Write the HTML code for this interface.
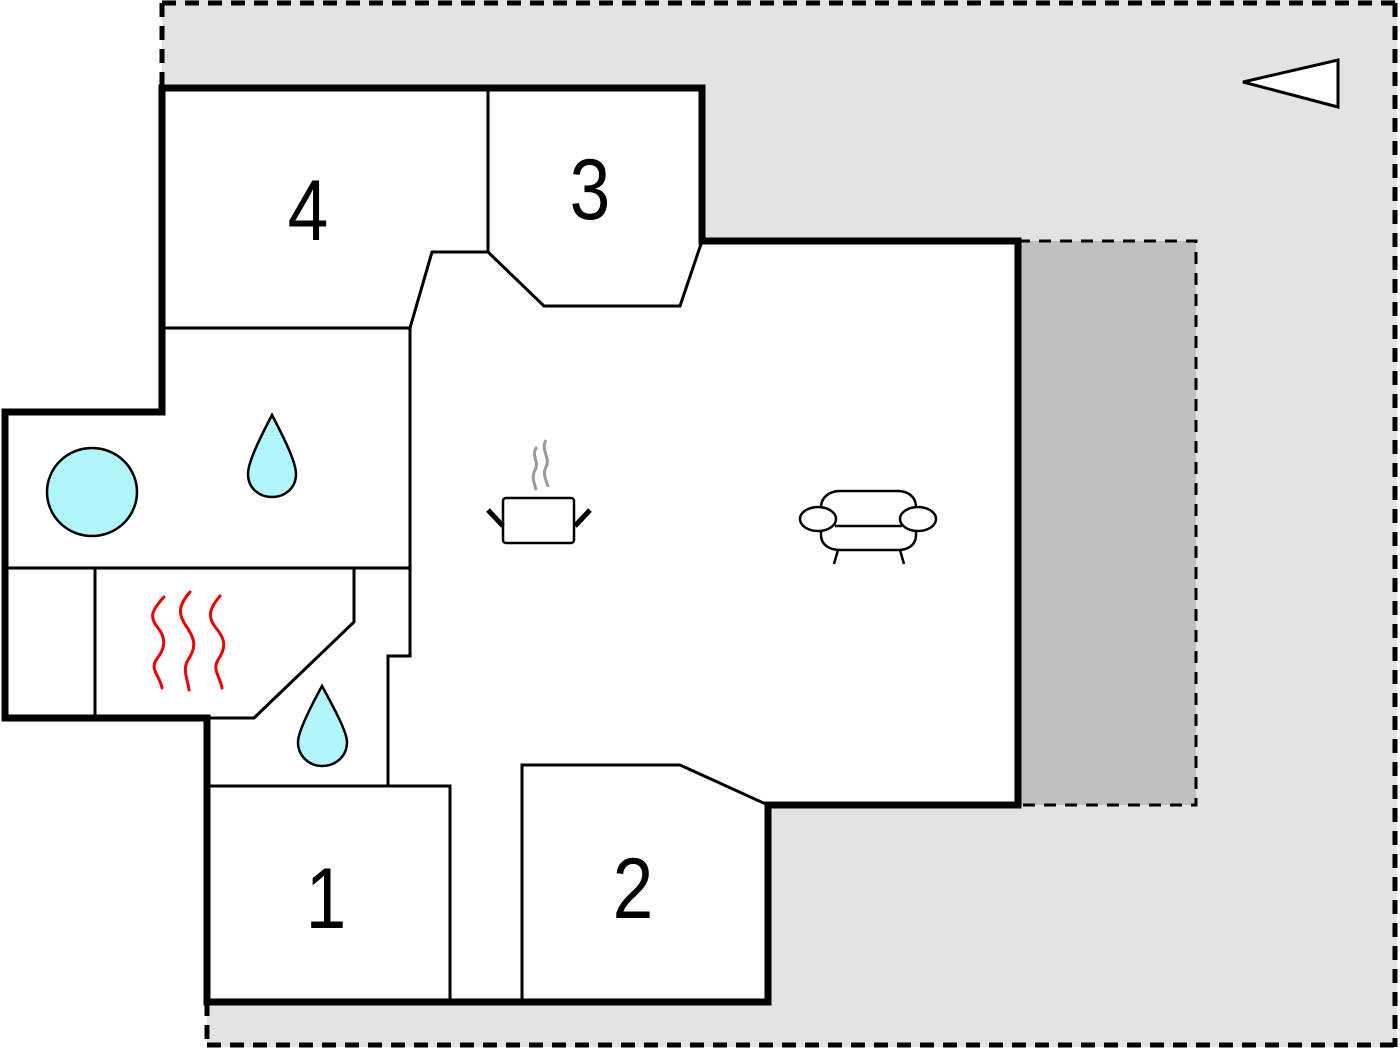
<!DOCTYPE html>
<html><head><meta charset="utf-8"><style>
html,body{margin:0;padding:0;background:#fff;}
svg{display:block;}
text{font-family:"Liberation Sans",sans-serif;font-size:86px;fill:#000;}
</style></head><body>
<svg width="1400" height="1050" viewBox="0 0 1400 1050" xmlns="http://www.w3.org/2000/svg">
<polygon points="162,0 1397,0 1397,1047 207,1047 207,720 162,720" fill="#e3e3e3"/>
<g stroke="#000" stroke-width="5" stroke-dasharray="14,9" fill="none">
<line x1="162" y1="3" x2="1397" y2="3"/>
<line x1="1395" y1="3" x2="1395" y2="1047"/>
<line x1="207" y1="1045" x2="1397" y2="1045"/>
<line x1="162" y1="3" x2="162" y2="88"/>
<line x1="207" y1="1002" x2="207" y2="1047"/>
</g>
<rect x="1018" y="241" width="178" height="564" fill="#c0c0c0" stroke="#000" stroke-width="3" stroke-dasharray="12,9"/>
<polygon points="162,88 702,88 702,241 1018,241 1018,805 768,805 768,1002 207,1002 207,718 5,718 5,412 162,412" fill="#fff" stroke="#000" stroke-width="7"/>
<g stroke="#000" stroke-width="3" fill="none" stroke-linejoin="miter">
<polyline points="488,88 488,252 432,252 410,328 410,568"/>
<line x1="162" y1="328" x2="410" y2="328"/>
<polyline points="488,252 544,306 680,306 702,241"/>
<line x1="5" y1="568" x2="410" y2="568"/>
<line x1="95" y1="568" x2="95" y2="718"/>
<polyline points="354,568 354,622 254,718 207,718"/>
<polyline points="410,568 410,656 388,656 388,786"/>
<polyline points="207,786 450,786 450,1002"/>
<polyline points="522,1002 522,765 680,765 768,805"/>
</g>
<ellipse cx="92" cy="492" rx="45" ry="44" fill="#b0f6fa" stroke="#000" stroke-width="2.5"/>
<path d="M272,415 C284,438 296,462 296,474 C296,488 285,497 272,497 C259,497 248,488 248,474 C248,462 260,438 272,415 Z" fill="#b0f6fa" stroke="#000" stroke-width="2.5"/>
<path d="M322,686 C334,708 347,732 347,742 C347,756 336,766 322,766 C309,766 298,756 298,742 C298,732 310,708 322,686 Z" fill="#b0f6fa" stroke="#000" stroke-width="2.5"/>
<g stroke="#e00" stroke-width="3" fill="none" stroke-linecap="round">
<path d="M164,597 C150,612 150,618 158,628 C166,638 166,648 156,660 C150,670 160,676 162,688"/>
<path d="M190,592 C178,606 178,614 186,626 C196,640 196,648 188,660 C182,670 188,680 189,690"/>
<path d="M220,596 C208,610 208,618 216,628 C226,640 226,648 218,660 C212,670 220,676 222,688"/>
</g>
<g stroke="#999" stroke-width="3" fill="none">
<path d="M537,447 C530,455 540,462 535,470 C531,478 535,484 536,490"/>
<path d="M546,440 C540,450 551,458 546,467 C542,475 547,481 548,487"/>
</g>
<rect x="503" y="498" width="71" height="45" rx="3" fill="#fff" stroke="#000" stroke-width="2.5"/>
<line x1="488" y1="510" x2="503" y2="526" stroke="#000" stroke-width="5"/>
<line x1="590" y1="510" x2="575" y2="526" stroke="#000" stroke-width="5"/>
<g stroke="#000" stroke-width="2.5" fill="#fff">
<path d="M821,520 L821,507 C821,497 830,491 840,491 L898,491 C908,491 916,497 916,507 L916,520"/>
<path d="M821,530 L821,535 C821,545 830,550 840,550 L898,550 C908,550 916,545 916,535 L916,530"/>
<line x1="835" y1="526" x2="902" y2="526"/>
<ellipse cx="818" cy="519" rx="18" ry="12"/>
<ellipse cx="918" cy="519" rx="18" ry="12"/>
<line x1="838" y1="550" x2="834" y2="564"/>
<line x1="900" y1="550" x2="904" y2="564"/>
</g>
<polygon points="1243,82 1338,60 1338,107" fill="#fff" stroke="#000" stroke-width="3"/>
<text x="308" y="240" text-anchor="middle" transform="translate(308,0) scale(0.85,1) translate(-308,0)">4</text>
<text x="590" y="219" text-anchor="middle" transform="translate(590,0) scale(0.85,1) translate(-590,0)">3</text>
<text x="326" y="928" text-anchor="middle" transform="translate(326,0) scale(0.85,1) translate(-326,0)">1</text>
<text x="633" y="918" text-anchor="middle" transform="translate(633,0) scale(0.85,1) translate(-633,0)">2</text>
</svg>
</body></html>
